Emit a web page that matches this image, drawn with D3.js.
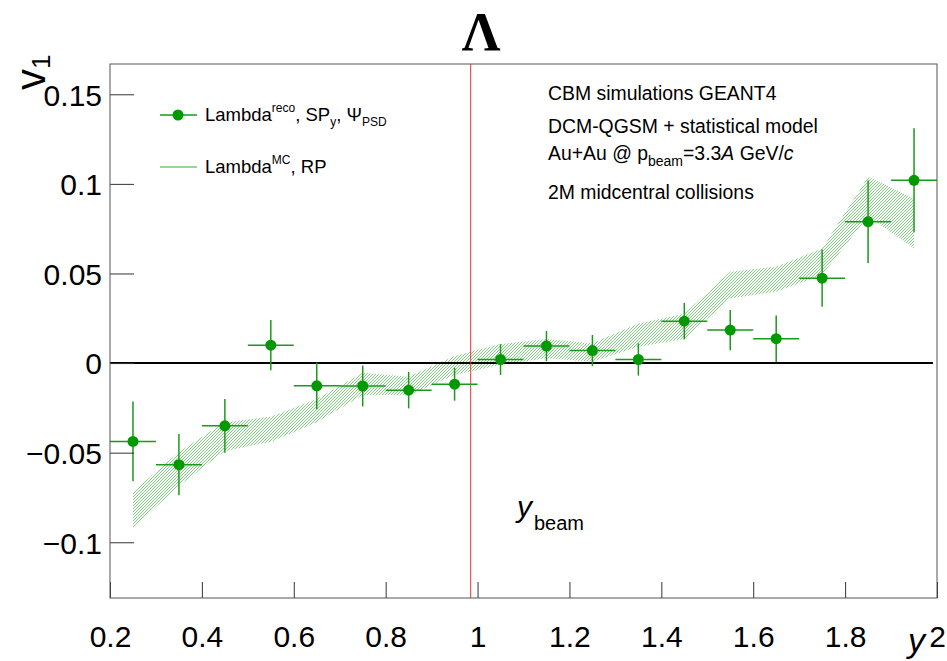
<!DOCTYPE html>
<html><head><meta charset="utf-8">
<script src="https://cdn.jsdelivr.net/npm/d3@7"></script>
<style>
body{margin:0;background:#fff;}
svg{display:block;}
</style></head>
<body><svg id="c" width="947" height="661" font-family="Liberation Sans, Arial, sans-serif"></svg>
<script>
// ---- data ----
const rapidity = [0.25,0.35,0.45,0.55,0.65,0.75,0.85,0.95,1.05,1.15,1.25,1.35,1.45,1.55,1.65,1.75,1.85,1.95];
const binHalfWidth = 0.05;
const v1Reco    = [-0.0437,-0.0567,-0.035,0.010,-0.0127,-0.0128,-0.0151,-0.0118,0.002,0.0095,0.007,0.002,0.0234,0.0184,0.0136,0.0474,0.0789,0.102];
const v1RecoErr = [0.0223,0.0171,0.015,0.014,0.013,0.0114,0.0102,0.0092,0.0086,0.0084,0.0087,0.009,0.0102,0.0112,0.013,0.016,0.023,0.029];
const v1MC      = [-0.082,-0.059,-0.041,-0.037,-0.0265,-0.0116,-0.0128,-0.0014,0.0048,0.0081,0.0059,0.0156,0.0205,0.0435,0.0468,0.0565,0.093,0.078];
const v1MCErr   = [0.0102,0.0094,0.008,0.007,0.0065,0.0062,0.0052,0.0053,0.0058,0.0054,0.0051,0.0065,0.007,0.0074,0.007,0.0074,0.011,0.014];
const yBeamMid = 0.985;
const xMajorTicks = [0.2,0.4,0.6,0.8,1.0,1.2,1.4,1.6,1.8,2.0];
const yMajorTicks = [-0.1,-0.05,0,0.05,0.1,0.15];
const infoLines = ["CBM simulations GEANT4","DCM-QGSM + statistical model","Au+Au @ p_beam=3.3A GeV/c","2M midcentral collisions"];

const svg = d3.select("#c");
const L=110,R=937,T=64,B=598;
const x = d3.scaleLinear().domain([0.2,2.0]).range([L,R]);
const y = d3.scaleLinear().domain([-0.1311,0.1669]).range([B,T]);

// hatch pattern
const defs = svg.append("defs");
const pat = defs.append("pattern").attr("id","hatch").attr("patternUnits","userSpaceOnUse")
  .attr("width",3).attr("height",3);
pat.append("path").attr("d","M-1,1 l2,-2 M0,3 l3,-3 M2,4 l2,-2").attr("stroke","#3dbb3d").attr("stroke-width",0.9).attr("stroke-opacity",0.75);

// band (MC)
const area = d3.area().x((d,i)=>x(rapidity[i])).y0((d,i)=>y(v1MC[i]-v1MCErr[i])).y1((d,i)=>y(v1MC[i]+v1MCErr[i]));
svg.append("path").datum(v1MC).attr("d",area).attr("fill","url(#hatch)");

// zero line
svg.append("line").attr("x1",L).attr("x2",R-4).attr("y1",y(0)).attr("y2",y(0)).attr("stroke","#000").attr("stroke-width",2);
// beam mid rapidity line
svg.append("line").attr("x1",x(yBeamMid)).attr("x2",x(yBeamMid)).attr("y1",T).attr("y2",B).attr("stroke","#ee3333").attr("stroke-width",1);

// reco points
const g = svg.append("g");
rapidity.forEach((r,i)=>{
  g.append("line").attr("x1",x(r-binHalfWidth)).attr("x2",x(r+binHalfWidth)).attr("y1",y(v1Reco[i])).attr("y2",y(v1Reco[i]))
   .attr("stroke","#1a9a1a").attr("stroke-width",1.5);
  g.append("line").attr("x1",x(r)).attr("x2",x(r)).attr("y1",y(v1Reco[i]-v1RecoErr[i])).attr("y2",y(v1Reco[i]+v1RecoErr[i]))
   .attr("stroke","#1a9a1a").attr("stroke-width",1.5);
});
g.selectAll("circle").data(rapidity).join("circle").attr("cx",d=>x(d)).attr("cy",(d,i)=>y(v1Reco[i])).attr("r",5.5).attr("fill","#009900");

// axes
const fmt = d=> d3.format("~g")(d);
const xMinor = d3.range(0.2,2.0001,0.05).map(v=>+v.toFixed(2));
const yMinor = d3.range(-0.13,0.1601,0.01).map(v=>+v.toFixed(2));
const ax = svg.append("g").attr("transform",`translate(0,${B})`);
ax.call(d3.axisBottom(x).tickValues(xMinor).tickSize(-8).tickFormat(""));
ax.call(d3.axisBottom(x).tickValues(xMajorTicks).tickSize(-16).tickPadding(28).tickFormat(fmt));
const ay = svg.append("g").attr("transform",`translate(${L},0)`);
ay.call(d3.axisLeft(y).tickValues(yMinor).tickSize(-12).tickFormat(""));
ay.call(d3.axisLeft(y).tickValues(yMajorTicks).tickSize(-24).tickPadding(8).tickFormat(fmt));
svg.selectAll(".domain").remove();
svg.selectAll(".tick line").attr("stroke","#333");
ax.selectAll(".tick text").attr("font-size",30).attr("dy","0.71em").attr("font-family","Liberation Sans").attr("fill","#000");
ay.selectAll(".tick text").attr("font-size",30).attr("dy","0.36em").attr("font-family","Liberation Sans").attr("fill","#000");

// frame
svg.append("rect").attr("x",L).attr("y",T).attr("width",R-L).attr("height",B-T).attr("fill","none").attr("stroke","#555").attr("stroke-width",1);

// title
svg.append("text").attr("x",481).attr("y",50).attr("text-anchor","middle").attr("font-family","Liberation Serif").attr("font-weight","bold").attr("font-size",54).text("Λ");

// axis titles
const vt = svg.append("text").attr("transform","translate(45,90) rotate(-90)").attr("font-size",42);
vt.append("tspan").text("v");
vt.append("tspan").attr("font-size",26).attr("dy",5).text("1");
svg.append("text").attr("x",925).attr("y",652).attr("text-anchor","end").attr("font-size",34).attr("font-style","italic").text("y");

// y_beam label
const yb = svg.append("text").attr("x",517).attr("y",517).attr("font-size",30);
yb.append("tspan").attr("font-style","italic").text("y");
yb.append("tspan").attr("font-size",20).attr("dy",13).attr("dx",2).text("beam");

// legend
const lg = svg.append("g");
lg.append("line").attr("x1",160).attr("x2",197).attr("y1",115).attr("y2",115).attr("stroke","#1a9a1a").attr("stroke-width",1.5);
lg.append("circle").attr("cx",178).attr("cy",115).attr("r",5.5).attr("fill","#009900");
const t1 = lg.append("text").attr("x",205).attr("y",121).attr("font-size",18.5);
t1.append("tspan").text("Lambda");
t1.append("tspan").attr("font-size",12).attr("dy",-9).text("reco");
t1.append("tspan").attr("dy",9).text(", SP");
t1.append("tspan").attr("font-size",12).attr("dy",5).text("y");
t1.append("tspan").attr("dy",-5).text(", Ψ");
t1.append("tspan").attr("font-size",12).attr("dy",5).text("PSD");
lg.append("line").attr("x1",160).attr("x2",197).attr("y1",167).attr("y2",167).attr("stroke","#33aa33").attr("stroke-width",1);
const t2 = lg.append("text").attr("x",205).attr("y",173).attr("font-size",18.5);
t2.append("tspan").text("Lambda");
t2.append("tspan").attr("font-size",12).attr("dy",-9).text("MC");
t2.append("tspan").attr("dy",9).text(", RP");

// info text
const fs = 19.4;
const info = svg.append("g");
info.append("text").attr("x",548).attr("y",100).attr("font-size",fs).text(infoLines[0]);
info.append("text").attr("x",548).attr("y",133).attr("font-size",fs).text(infoLines[1]);
const t3 = info.append("text").attr("x",548).attr("y",160).attr("font-size",fs);
t3.append("tspan").text("Au+Au @ p");
t3.append("tspan").attr("font-size",14).attr("dy",6).text("beam");
t3.append("tspan").attr("dy",-6).text("=3.3");
t3.append("tspan").attr("font-style","italic").text("A");
t3.append("tspan").text(" GeV/");
t3.append("tspan").attr("font-style","italic").text("c");
info.append("text").attr("x",548).attr("y",199).attr("font-size",fs).text(infoLines[3]);
</script></body></html>
